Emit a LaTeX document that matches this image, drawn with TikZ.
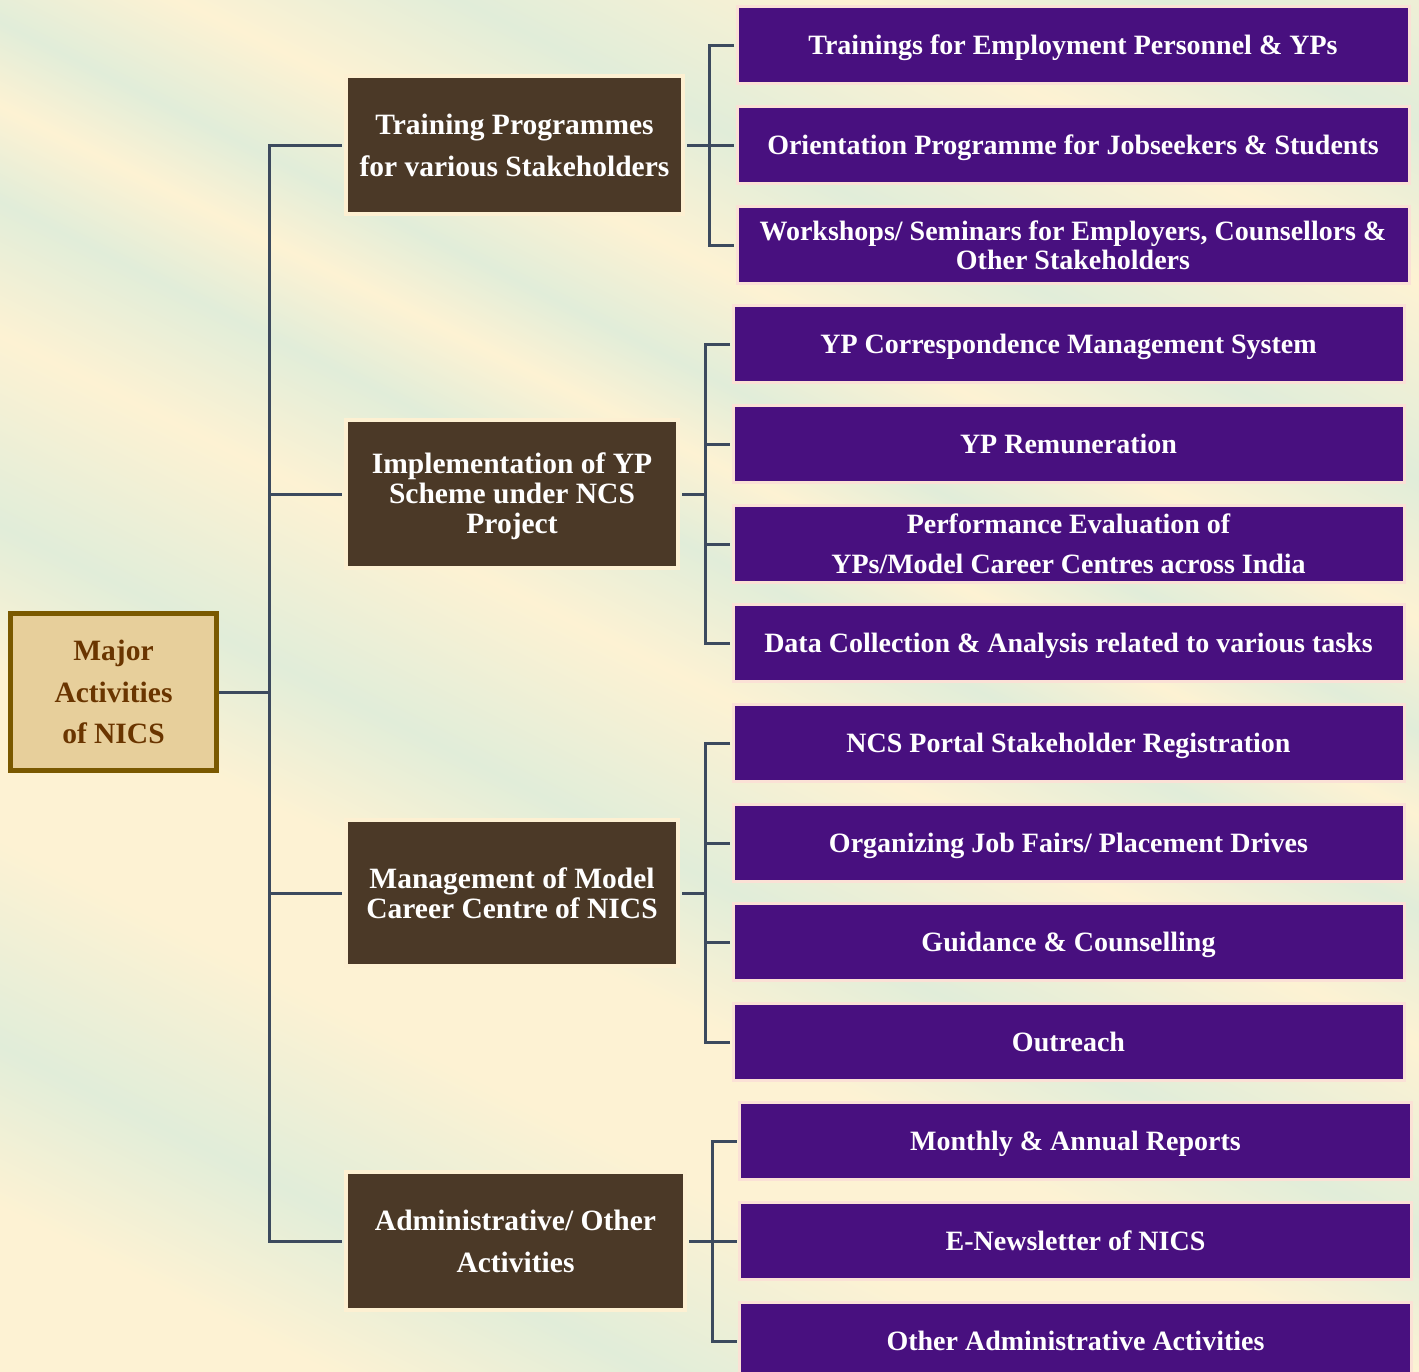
\documentclass[tikz,border=0pt]{standalone}
\usepackage{fontspec}
\setmainfont{Liberation Serif}
\definecolor{cream}{HTML}{FDF2D3}
\definecolor{mint}{HTML}{E1EDD9}
\definecolor{tanfill}{HTML}{E7CF9B}
\definecolor{tanborder}{HTML}{7A5900}
\definecolor{tantext}{HTML}{6A3500}
\definecolor{wood}{HTML}{3A2A1C}
\definecolor{woodlight}{HTML}{4B3927}
\definecolor{purp}{HTML}{48107F}
\definecolor{purpedge}{HTML}{FBE1D6}
\definecolor{woodedge}{HTML}{FDF0D2}
\definecolor{connc}{HTML}{3C4A5E}
\pgfdeclarehorizontalshading{bgbands}{100bp}{
  color(0bp)=(cream); color(25bp)=(cream); color(30.83bp)=(mint);
  color(34.22bp)=(cream); color(38.45bp)=(mint); color(41.5bp)=(cream);
  color(43.93bp)=(mint); color(45.75bp)=(cream); color(47.82bp)=(mint);
  color(50.73bp)=(cream); color(54.85bp)=(mint); color(58.01bp)=(cream);
  color(61.65bp)=(cream); color(66.14bp)=(mint); color(69.66bp)=(cream);
  color(75bp)=(cream); color(100bp)=(cream)}
\tikzset{
  rootbox/.style={draw=tanborder, line width=5pt, fill=tanfill, text=tantext,
    font=\fontsize{29.5}{41.5}\selectfont\bfseries, align=center,
    minimum width=206pt, minimum height=157pt, inner sep=0pt},
  woodbox/.style={draw=woodedge, line width=4pt, top color=woodlight,
    middle color=wood, bottom color=woodlight, text=white, align=center, inner sep=0pt},
  woodwide/.style={woodbox, font=\fontsize{29.5}{42}\selectfont\bfseries},
  woodtight/.style={woodbox, font=\fontsize{29.5}{30}\selectfont\bfseries},
  purpbox/.style={draw=purpedge, line width=3pt, fill=purp, text=white, align=center,
    inner sep=0pt, minimum height=77pt, font=\fontsize{28}{29}\selectfont\bfseries},
  oneline/.style={text height=19pt, text depth=1pt},
  pA/.style={purpbox, minimum width=672pt},
  pB/.style={purpbox, minimum width=671pt},
  connline/.style={draw=connc, line width=3pt, line join=miter},
}
\begin{document}
\begin{tikzpicture}[x=1pt,y=-1pt]
\useasboundingbox (0,0) rectangle (1419,1371);
% background bands
\begin{scope}
\clip (0,0) rectangle (1419,1371);
\fill[cream] (0,0) rectangle (1419,1371);
\begin{scope}[transform canvas={rotate=-116.565}]
  \path[shading=bgbands] (-760,-2600) rectangle (1300,600);
\end{scope}
\end{scope}

% nodes
\node[rootbox] (root) at (113.5,692) {Major\\Activities\\of NICS};

\node[woodwide, minimum width=337pt, minimum height=138pt] (b1) at (514.5,145) {Training Programmes\\for various Stakeholders};
\node[woodtight, minimum width=332pt, minimum height=148pt] (b2) at (512,494) {\rule{0pt}{25pt}Implementation of YP\\Scheme under NCS\\Project};
\node[woodtight, minimum width=332pt, minimum height=146pt] (b3) at (512,893) {Management of Model\\Career Centre of NICS};
\node[woodwide, minimum width=339pt, minimum height=138pt] (b4) at (515.5,1241) {Administrative/ Other\\Activities};

\node[pA, oneline] (p11) at (1073,45) {Trainings for Employment Personnel \& YPs};
\node[pA, oneline] (p12) at (1073,145) {Orientation Programme for Jobseekers \& Students};
\node[pA] (p13) at (1073,245) {Workshops/ Seminars for Employers, Counsellors \&\\Other Stakeholders};

\node[pB, oneline] (p21) at (1068.5,344) {YP Correspondence Management System};
\node[pB, oneline] (p22) at (1068.5,444) {YP Remuneration};
\node[pB, font=\fontsize{28}{40}\selectfont\bfseries] (p23) at (1068.5,544) {Performance Evaluation of\\YPs/Model Career Centres across India};
\node[pB, oneline] (p24) at (1068.5,643) {Data Collection \& Analysis related to various tasks};

\node[pB, oneline] (p31) at (1068.5,743) {NCS Portal Stakeholder Registration};
\node[pB, oneline] (p32) at (1068.5,843) {Organizing Job Fairs/ Placement Drives};
\node[pB, oneline] (p33) at (1068.5,942) {Guidance \& Counselling};
\node[pB, oneline] (p34) at (1068.5,1042) {Outreach};

\node[pA, oneline] (p41) at (1075.5,1141) {Monthly \& Annual Reports};
\node[pA, oneline] (p42) at (1075.5,1241) {E-Newsletter of NICS};
\node[pA, oneline] (p43) at (1075.5,1341) {Other Administrative Activities};

% junctions
\coordinate (t) at (269,692);
\coordinate (j1) at (709,145);
\coordinate (j2) at (705,494);
\coordinate (j3) at (705,893);
\coordinate (j4) at (712,1241);

% connectors
\draw[connline] (root.east) -- (t);
\draw[connline, shorten <=2pt, shorten >=2pt] (b1.west) -| (t) |- (b4.west);
\draw[connline, shorten >=2pt] (t |- b2.west) -- (b2.west);
\draw[connline, shorten >=2pt] (t |- b3.west) -- (b3.west);

\draw[connline, shorten <=2pt] (b1.east) -- (j1);
\draw[connline, shorten <=1.5pt, shorten >=1.5pt] (p11.west) -| (j1) |- (p13.west);
\draw[connline, shorten >=1.5pt] (j1) -- (p12.west);

\draw[connline, shorten <=2pt] (b2.east) -- (j2);
\draw[connline, shorten <=1.5pt, shorten >=1.5pt] (p21.west) -| (j2) |- (p24.west);
\draw[connline, shorten >=1.5pt] (j2 |- p22.west) -- (p22.west);
\draw[connline, shorten >=1.5pt] (j2 |- p23.west) -- (p23.west);

\draw[connline, shorten <=2pt] (b3.east) -- (j3);
\draw[connline, shorten <=1.5pt, shorten >=1.5pt] (p31.west) -| (j3) |- (p34.west);
\draw[connline, shorten >=1.5pt] (j3 |- p32.west) -- (p32.west);
\draw[connline, shorten >=1.5pt] (j3 |- p33.west) -- (p33.west);

\draw[connline, shorten <=2pt] (b4.east) -- (j4);
\draw[connline, shorten <=1.5pt, shorten >=1.5pt] (p41.west) -| (j4) |- (p43.west);
\draw[connline, shorten >=1.5pt] (j4) -- (p42.west);
\end{tikzpicture}
\end{document}
